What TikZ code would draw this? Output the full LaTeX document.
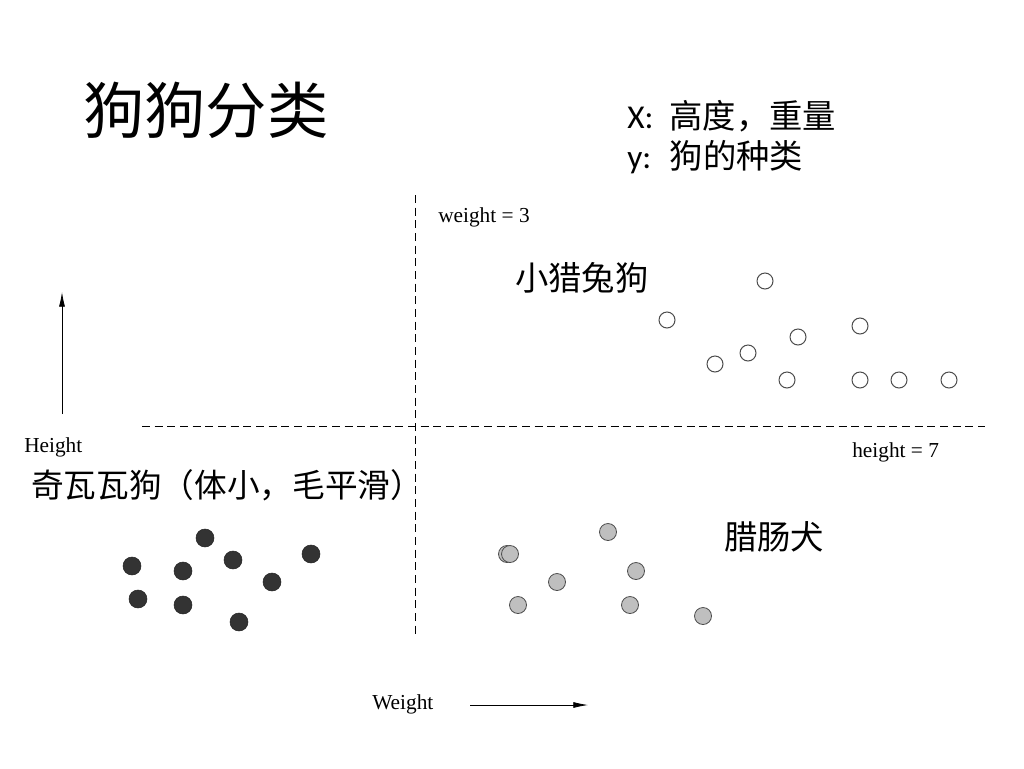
\documentclass[tikz,border=0pt]{standalone}
\usepackage{fontspec}
\setmainfont{Liberation Serif}
\newfontfamily\cjk{Noto Sans CJK SC}
\newfontfamily\lat{Carlito}
\usepackage{tikz}
\usetikzlibrary{arrows.meta}

\tikzset{
	blackdot/.style={circle, draw=black!85, fill=black!80, minimum size=13.5pt, inner sep=0pt},
	graydot/.style={circle, draw=black!70, fill=black!25, line width=0.6pt, minimum size=12.75pt, inner sep=0pt},
	whitedot/.style={circle, draw=black!70, fill=white, line width=0.75pt, minimum size=12pt, inner sep=0pt},
	label/.style={anchor=west, inner sep=0pt},
	guide/.style={dash pattern=on 6pt off 3.5pt, line width=0.6pt},
	axis/.style={-{Latex[length=11pt, width=4.5pt]}, line width=0.6pt}
}

\begin{document}
\begin{tikzpicture}[x=0.75pt, y=-0.75pt]
	\useasboundingbox (0,0) rectangle (1024,768);
	\node[label] (title) at (83,110) {\fontsize{46}{50}\selectfont\cjk 狗狗分类};
	\node[label] (xvar) at (627,116) {\fontsize{25}{30}\selectfont{\lat X:\hspace{12pt}}{\cjk 高度，重量}};
	\node[label] (yvar) at (627,157) {\fontsize{25}{30}\selectfont{\lat y:\hspace{14pt}}{\cjk 狗的种类}};
	% dashed guide lines
	\coordinate (vtop) at (415,195);
	\coordinate (vbot) at (415,637);
	\coordinate (hleft) at (142,426);
	\coordinate (hright) at (985,426);
	\draw[guide] (vtop) -- (vbot);
	\draw[guide] (hleft) -- (hright);
	\node[label] (wlimit) at (438,217) {\fontsize{16}{19}\selectfont weight = 3};
	\node[label] (hlimit) at (852,452) {\fontsize{16}{19}\selectfont height = 7};
	% axes
	\coordinate (hbase) at (62,414);
	\coordinate (htip) at (62,292);
	\draw[axis] (hbase) -- (htip);
	\node[label] (hname) at (24,447) {\fontsize{16}{19}\selectfont Height};
	\node[label] (wname) at (372,704) {\fontsize{16}{19}\selectfont Weight};
	\coordinate (wbase) at (470,705);
	\coordinate (wtip) at (588,705);
	\draw[axis] (wbase) -- (wtip);
	% classes
	\node[label] (beagle) at (515,278) {\fontsize{25}{30}\selectfont\cjk 小猎兔狗};
	\node[label] (chihuahua) at (31,485) {\fontsize{24.5}{30}\selectfont\cjk 奇瓦瓦狗（体小，毛平滑）};
	\node[label] (dachshund) at (724,537) {\fontsize{25}{30}\selectfont\cjk 腊肠犬};
	\foreach \x/\y [count=\i] in {765/281, 667/320, 860/326, 798/337, 748/353, 715/364, 787/380, 860/380, 899/380, 949/380}
		\node[whitedot] (b\i) at (\x,\y) {};
	\foreach \x/\y [count=\i] in {205/538, 132/566, 183/571, 233/560, 311/554, 272/582, 138/599, 183/605, 239/622}
		\node[blackdot] (c\i) at (\x,\y) {};
	\foreach \x/\y [count=\i] in {608/532, 507/554, 510/554, 557/582, 636/571, 518/605, 630/605, 703/616}
		\node[graydot] (d\i) at (\x,\y) {};
\end{tikzpicture}
\end{document}
